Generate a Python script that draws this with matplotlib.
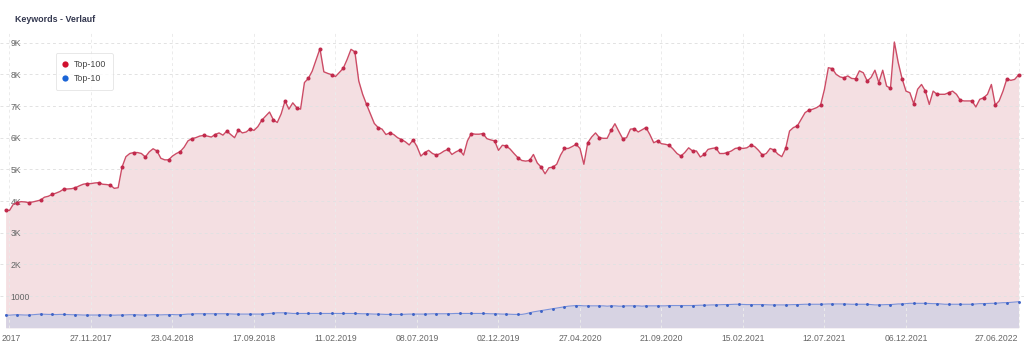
import matplotlib
matplotlib.use("Agg")
import matplotlib.pyplot as plt
import matplotlib.dates as mdates
from matplotlib.lines import Line2D
from matplotlib.transforms import ScaledTranslation
import pandas as pd

plt.rcParams['font.family'] = ['Liberation Sans', 'DejaVu Sans']

# weekly values, first week 26.06.2017
start_date = '2017-06-26'
top100 = [
    3720, 3700, 3900, 3950, 3980, 3970, 3950, 3970, 4000, 4030, 4120, 4150, 4210, 4250, 4300, 4380, 4380, 4390, 4420, 4480, 4530,
    4550, 4550, 4570, 4580, 4530, 4520, 4500, 4400, 4420, 5070, 5400, 5500, 5530, 5530, 5500, 5390, 5550, 5650, 5580, 5350, 5300,
    5300, 5420, 5500, 5560, 5700, 5900, 5970, 6000, 6050, 6070, 6050, 6020, 6100, 6150, 6080, 6210, 6100, 6000, 6250, 6150, 6180,
    6280, 6230, 6350, 6550, 6680, 6810, 6560, 6480, 6750, 7160, 6900, 7100, 6950, 6900, 7740, 7870, 8100, 8450, 8810, 8080, 8030,
    7990, 7930, 8060, 8190, 8470, 8790, 8710, 7790, 7370, 7050, 6750, 6450, 6320, 6270, 6100, 6150, 6100, 6000, 5940, 5870, 5770,
    5930, 5720, 5420, 5530, 5600, 5500, 5450, 5500, 5580, 5630, 5470, 5550, 5610, 5450, 5900, 6130, 6110, 6110, 6130, 5970, 5930,
    5900, 5600, 5760, 5740, 5640, 5500, 5370, 5280, 5260, 5280, 5470, 5200, 5070, 4860, 5050, 5070, 5160, 5450, 5660, 5660, 5720,
    5790, 5660, 5160, 5840, 6020, 6150, 6000, 5980, 5980, 6230, 6440, 6200, 5970, 6000, 6270, 6280, 6180, 6250, 6320, 6100, 5840,
    5900, 5810, 5790, 5760, 5640, 5500, 5420, 5530, 5680, 5580, 5580, 5390, 5470, 5630, 5660, 5680, 5500, 5500, 5530, 5580, 5660,
    5680, 5660, 5680, 5760, 5720, 5600, 5450, 5500, 5660, 5610, 5480, 5400, 5660, 6210, 6320, 6370, 6580, 6790, 6870, 6900, 6950,
    7030, 7530, 8210, 8180, 8000, 7920, 7890, 7950, 7870, 7860, 8110, 8050, 7790, 7900, 8130, 7740, 8130, 7630, 7560, 9020, 8370,
    7860, 7470, 7420, 7070, 7530, 7680, 7470, 7050, 7470, 7370, 7370, 7370, 7420, 7470, 7370, 7180, 7160, 7160, 7160, 6970, 7210,
    7260, 7370, 7680, 7030, 7160, 7470, 7860, 7810, 7840, 7980,
]
top10 = [
    400, 395, 405, 410, 405, 400, 400, 410, 420, 430, 425, 420, 420, 415, 420, 420, 415, 410, 410, 405, 400,
    400, 400, 400, 400, 405, 400, 400, 395, 400, 400, 405, 410, 410, 405, 400, 400, 405, 410, 410, 405, 410,
    410, 415, 410, 410, 420, 430, 430, 440, 440, 440, 440, 440, 440, 440, 440, 440, 435, 430, 430, 430, 430,
    430, 430, 430, 430, 440, 450, 460, 470, 470, 470, 460, 450, 450, 450, 450, 450, 450, 450, 450, 450, 450,
    450, 450, 450, 450, 450, 450, 450, 445, 440, 440, 435, 430, 430, 425, 420, 420, 420, 420, 420, 425, 430,
    430, 430, 430, 430, 435, 440, 440, 440, 440, 440, 445, 450, 450, 450, 450, 450, 450, 450, 450, 445, 440,
    440, 435, 430, 430, 425, 420, 420, 420, 440, 470, 500, 520, 540, 560, 580, 600, 620, 640, 660, 680, 690,
    700, 700, 690, 690, 690, 690, 690, 690, 680, 690, 690, 680, 680, 690, 690, 690, 690, 680, 690, 690, 690,
    690, 690, 690, 700, 700, 700, 700, 700, 700, 700, 705, 710, 710, 715, 720, 720, 725, 730, 730, 735, 740,
    740, 735, 730, 730, 730, 730, 730, 725, 720, 720, 720, 720, 720, 725, 730, 730, 735, 740, 740, 740, 740,
    740, 745, 750, 750, 750, 750, 750, 745, 740, 740, 740, 740, 740, 730, 720, 720, 725, 730, 730, 740, 750,
    750, 760, 770, 770, 770, 770, 770, 765, 760, 760, 750, 740, 740, 740, 740, 740, 740, 740, 740, 750, 760,
    760, 765, 770, 770, 780, 790, 790, 800, 810, 820,
]
tick_dates = ['03.07.2017', '27.11.2017', '23.04.2018', '17.09.2018', '11.02.2019', '08.07.2019',
              '02.12.2019', '27.04.2020', '21.09.2020', '15.02.2021', '12.07.2021', '06.12.2021', '27.06.2022']
tick_labels = ['2017'] + tick_dates[1:]   # first label is cut to "2017" in the screenshot
y_ticks = [1000, 2000, 3000, 4000, 5000, 6000, 7000, 8000, 9000]
y_labels = ['1000', '2K', '3K', '4K', '5K', '6K', '7K', '8K', '9K']

red_line = '#cc4c66'
red_dot = '#c12a4c'
red_fill = '#f4dfe2'
blue_line = '#7b93da'
blue_dot = '#3d62c6'
blue_fill = '#d7d3e3'
W, H = 1024, 348

dates = pd.date_range(start_date, periods=len(top100), freq='7D')
xd = mdates.date2num(dates)
week = 7.0
px_per_week = 3.881

fig = plt.figure(figsize=(W / 100, H / 100), dpi=100)
fig.patch.set_facecolor('white')
fig.text(15 / W, 1 - 20 / H, 'Keywords - Verlauf', fontsize=6.4, fontweight='bold',
         color='#33374f', va='center', ha='left')

ax = fig.add_axes([0, 1 - 327.7 / H, 1, (327.7 - 33) / H])
x0 = xd[0] - 5.6 / px_per_week * week
x1 = x0 + W / px_per_week * week
ax.set_xlim(x0, x1)
ax.set_ylim(0, (327.7 - 33) / 31.67 * 1000)

ax.fill_between(xd, top100, 0, color=red_fill, lw=0, zorder=0.5)
ax.fill_between(xd, top10, 0, color=blue_fill, lw=0, zorder=0.6)
ax.plot(xd, top100, color=red_line, lw=1.0, zorder=3)
ax.plot(xd[::3], top100[::3], 'o', color=red_dot, ms=2.9, mew=0, zorder=3.1)
ax.plot(xd, top10, color=blue_line, lw=0.8, zorder=3)
ax.plot(xd[::3], top10[::3], 'o', color=blue_dot, ms=2.1, mew=0, zorder=3.1)

tx = mdates.date2num(pd.to_datetime(tick_dates, format='%d.%m.%Y'))
ax.set_xticks(tx)
ax.set_xticklabels(tick_labels)
ax.set_yticks(y_ticks)
ax.set_yticklabels(y_labels)
ax.set_axisbelow('line')
ax.grid(True, axis='y', color='#e2e2e2', lw=0.7, ls=(0, (3, 3)), zorder=1.5)
ax.grid(True, axis='x', color='#ebebeb', lw=0.7, ls=(0, (3, 3)), zorder=1.5)
ax.tick_params(axis='both', length=0, labelsize=6.2, labelcolor='#666666')
ax.tick_params(axis='x', pad=4.5)
ax.tick_params(axis='y', pad=-7.5)
for lbl in ax.get_yticklabels():
    lbl.set_ha('left')
xl = ax.get_xticklabels()
xl[0].set_ha('left')
xl[0].set_transform(xl[0].get_transform() + ScaledTranslation(-7.5 / 100, 0, fig.dpi_scale_trans))
xl[-1].set_ha('right')
for s in ax.spines.values():
    s.set_visible(False)
ax.set_facecolor('none')

handles = [Line2D([], [], ls='none', marker='o', color='#d0102f', ms=4.5, mew=0),
           Line2D([], [], ls='none', marker='o', color='#1a64d6', ms=4.5, mew=0)]
leg = ax.legend(handles, ['Top-100', 'Top-10'], loc='upper left',
                bbox_to_anchor=(55.7 / W, 1 - 53.3 / H), bbox_transform=fig.transFigure,
                borderaxespad=0, fontsize=6.4, handlelength=0.6, handletextpad=0.7,
                labelspacing=0.6, borderpad=0.75, frameon=True, fancybox=True)
leg.get_frame().set_edgecolor('#dddddd')
leg.get_frame().set_linewidth(0.6)
for t in leg.get_texts():
    t.set_color('#444444')
leg.set_zorder(5)

fig.savefig('out.png', dpi=100, facecolor='white')
